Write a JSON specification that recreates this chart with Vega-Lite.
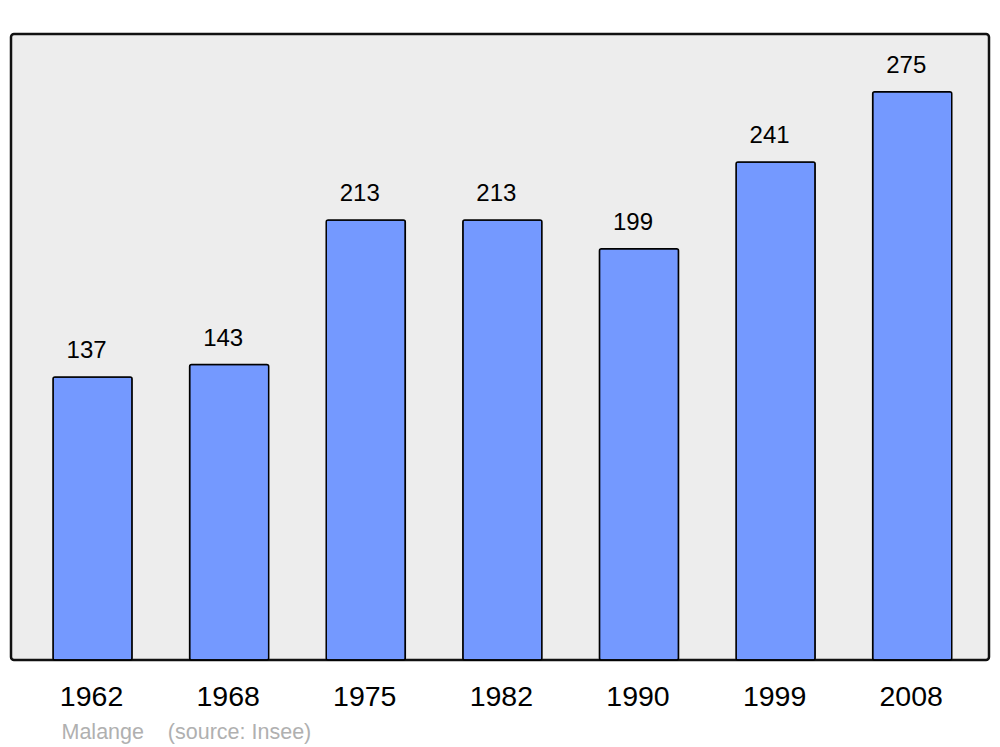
{
  "$schema": "https://vega.github.io/schema/vega-lite/v6.json",
  "autosize": "none",
  "width": 978,
  "height": 626,
  "padding": {"left": 11, "top": 34, "right": 11, "bottom": 87},
  "background": "white",
  "config": {
    "font": "Liberation Sans",
    "view": {"fill": "#ededed", "stroke": "#111111", "strokeWidth": 2.5, "cornerRadius": 3}
  },
  "data": {
    "values": [
      {"year": "1962", "pop": 137},
      {"year": "1968", "pop": 143},
      {"year": "1975", "pop": 213},
      {"year": "1982", "pop": 213},
      {"year": "1990", "pop": 199},
      {"year": "1999", "pop": 241},
      {"year": "2008", "pop": 275}
    ]
  },
  "encoding": {
    "x": {
      "field": "year",
      "type": "ordinal",
      "sort": null,
      "scale": {"paddingInner": 0.421, "paddingOuter": 0.29, "align": 0.53},
      "axis": {
        "domain": false,
        "ticks": false,
        "grid": false,
        "labelAngle": 0,
        "labelFontSize": 28.5,
        "labelColor": "#000000",
        "labelBaseline": "alphabetic",
        "labelPadding": 45,
        "labelOffset": -1,
        "title": "Malange\u00a0\u00a0\u00a0\u00a0(source: Insee)",
        "titleX": 50,
        "titleY": 78,
        "titleAlign": "left",
        "titleAnchor": null,
        "titleBaseline": "alphabetic",
        "titleFontWeight": "normal",
        "titleFontSize": 21.5,
        "titleColor": "#b0b0b0"
      }
    },
    "y": {
      "field": "pop",
      "type": "quantitative",
      "scale": {"domain": [0, 303], "nice": false},
      "axis": null
    }
  },
  "layer": [
    {
      "mark": {"type": "bar", "fill": "#7499ff", "stroke": "#000000", "strokeWidth": 1.5, "cornerRadius": 2}
    },
    {
      "mark": {"type": "text", "baseline": "alphabetic", "dy": -19, "dx": -6, "fontSize": 24, "color": "#000000"},
      "encoding": {"text": {"field": "pop", "type": "quantitative"}}
    }
  ]
}
